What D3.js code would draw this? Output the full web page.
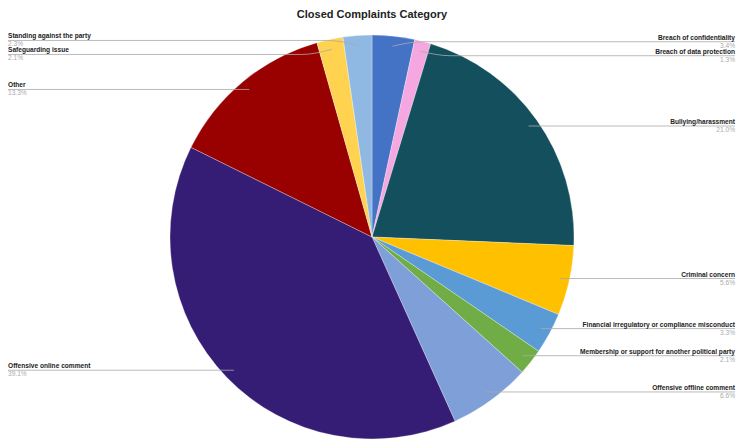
<!DOCTYPE html>
<html><head><meta charset="utf-8">
<script src="https://cdn.jsdelivr.net/npm/d3@7"></script>
<style>body{margin:0;background:#fff}svg{display:block;font-family:Arial,"Liberation Sans",sans-serif}</style>
</head><body><svg id="c" width="737" height="440"></svg>
<script>
const categories = ["Breach of confidentiality","Breach of data protection","Bullying/harassment","Criminal concern","Financial irregulatory or compliance misconduct","Membership or support for another political party","Offensive offline comment","Offensive online comment","Other","Safeguarding issue","Standing against the party"];
const values = [3.4,1.3,21.0,5.6,3.3,2.1,6.6,39.1,13.3,2.1,2.3];
const colors = ["#4472c4","#f4a7e0","#134f5c","#ffc000","#5b9bd5","#70ad47","#7f9fd8","#351c75","#990000","#ffd24f","#8fb9e2"];
const title = "Closed Complaints Category";

const W=737,H=440,cx=372,cy=237,R=202;
const svg=d3.select("#c");
svg.append("text").attr("x",372).attr("y",18).attr("text-anchor","middle")
  .attr("font-size",11).attr("font-weight","bold").attr("fill","#222").text(title);

const pie=d3.pie().sort(null).value(d=>d)(values);
const arc=d3.arc().innerRadius(0).outerRadius(R);
const g=svg.append("g").attr("transform",`translate(${cx},${cy})`);
g.selectAll("path").data(pie).join("path").attr("d",arc).attr("fill",(d,i)=>colors[i])
  .attr("stroke","#fff").attr("stroke-width",0.3);

const items=pie.map((d,i)=>{
  const a=(d.startAngle+d.endAngle)/2;
  const ax=cx+Math.sin(a)*R*0.95, ay=cy-Math.cos(a)*R*0.95;
  return {i,a,ax,ay,y:ay,right:Math.sin(a)>=0};
});
function relax(list){
  list.sort((p,q)=>p.ay-q.ay);
  const gap=14;
  let groups=list.map(d=>({items:[d],y:d.ay}));
  let changed=true;
  while(changed){
    changed=false;
    for(let k=0;k<groups.length-1;k++){
      const A=groups[k],B=groups[k+1];
      const aEnd=A.y+(A.items.length-1)/2*gap, bStart=B.y-(B.items.length-1)/2*gap;
      if(bStart-aEnd<gap){
        const its=A.items.concat(B.items);
        const mean=d3.mean(its,d=>d.ay);
        groups.splice(k,2,{items:its,y:mean});
        changed=true;break;
      }
    }
  }
  groups.forEach(gr=>{const n=gr.items.length;gr.items.forEach((d,j)=>d.y=gr.y+(j-(n-1)/2)*gap);});
}
relax(items.filter(d=>d.right));
relax(items.filter(d=>!d.right));

const lab=svg.append("g");
items.forEach(d=>{
  const edge=d.right?735:8;
  const bx=d.ax+(d.right?1:-1)*(Math.abs(d.y-d.ay)>1?30:0);
  lab.append("path").attr("d",d3.line().curve(d3.curveMonotoneX)( d.right?[[d.ax,d.ay],[bx,d.y],[edge,d.y]]:[[edge,d.y],[bx,d.y],[d.ax,d.ay]]))
    .attr("fill","none").attr("stroke","#aaa").attr("stroke-width",0.8);
  lab.append("text").attr("x",edge).attr("y",d.y-2).attr("text-anchor",d.right?"end":"start")
    .attr("font-size",6.6).attr("font-weight","bold").attr("fill","#222").text(categories[d.i]);
  lab.append("text").attr("x",edge).attr("y",d.y+6).attr("text-anchor",d.right?"end":"start")
    .attr("font-size",6.6).attr("fill","#aaa").text(values[d.i].toFixed(1)+"%");
});
</script></body></html>
